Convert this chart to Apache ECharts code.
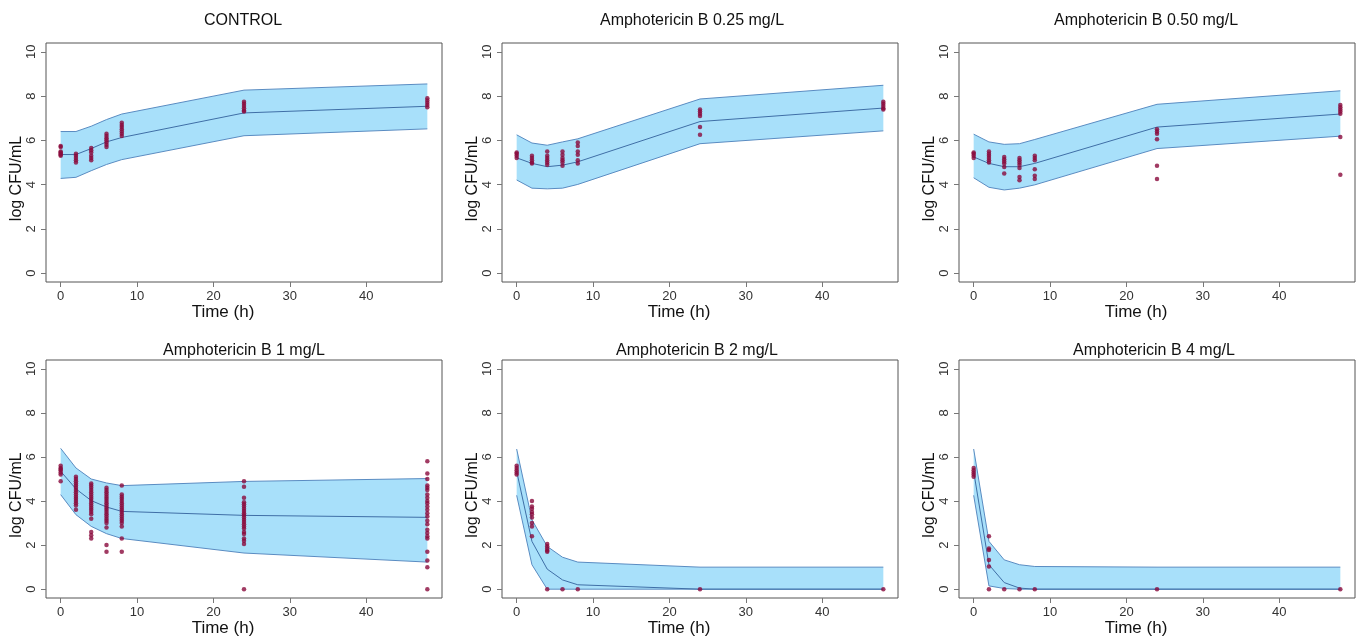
<!DOCTYPE html>
<html>
<head>
<meta charset="utf-8">
<script src="https://cdn.jsdelivr.net/npm/echarts@6/dist/echarts.min.js"></script>
<style>html,body{margin:0;padding:0;background:#fff;}#c{width:1357px;height:639px;}</style>
</head>
<body>
<div id="c"></div>
<script>
// ---------- DATA ----------
const panelTitles = ["CONTROL", "Amphotericin B 0.25 mg/L", "Amphotericin B 0.50 mg/L",
                     "Amphotericin B 1 mg/L", "Amphotericin B 2 mg/L", "Amphotericin B 4 mg/L"];
const bandTimes = [0, 2, 4, 6, 8, 24, 48];
const xTicks = [0, 10, 20, 30, 40];
const yTicks = [0, 2, 4, 6, 8, 10];

// prediction-interval upper / median / lower per panel (at bandTimes)
const upperCtrl = [6.40, 6.40, 6.64, 6.94, 7.19, 8.27, 8.55];
const medCtrl   = [5.36, 5.36, 5.63, 5.93, 6.13, 7.24, 7.54];
const lowerCtrl = [4.28, 4.33, 4.63, 4.91, 5.13, 6.21, 6.52];

const upper025 = [6.25, 5.88, 5.78, 5.93, 6.07, 7.87, 8.49];
const med025   = [5.21, 4.96, 4.81, 4.88, 5.03, 6.85, 7.46];
const lower025 = [4.21, 3.84, 3.81, 3.84, 4.01, 5.85, 6.43];

const upper050 = [6.28, 5.93, 5.82, 5.85, 6.04, 7.63, 8.24];
const med050   = [5.25, 4.96, 4.81, 4.81, 4.96, 6.60, 7.19];
const lower050 = [4.31, 3.88, 3.76, 3.84, 3.99, 5.63, 6.19];

const upper1 = [6.39, 5.50, 5.00, 4.82, 4.70, 4.89, 5.02];
const med1   = [5.35, 4.55, 4.02, 3.73, 3.53, 3.35, 3.26];
const lower1 = [4.29, 3.38, 2.85, 2.52, 2.30, 1.64, 1.23];

const upper2 = [6.36, 3.15, 1.94, 1.45, 1.23, 1.00, 1.00];
const med2   = [5.35, 2.17, 0.91, 0.42, 0.20, 0.00, 0.00];
const lower2 = [4.26, 1.11, 0.00, 0.00, 0.00, 0.00, 0.00];

const upper4 = [6.36, 2.17, 1.33, 1.11, 1.03, 1.00, 1.00];
const med4   = [5.35, 1.11, 0.30, 0.05, 0.00, 0.00, 0.00];
const lower4 = [4.26, 0.15, 0.03, 0.00, 0.00, 0.00, 0.00];

// observed log CFU/mL per sampling time
const obsCtrl = {
  0: [5.75, 5.7, 5.5, 5.45, 5.4, 5.35, 5.3],
  2: [5.4, 5.3, 5.2, 5.1, 5.0],
  4: [5.65, 5.55, 5.45, 5.3, 5.2, 5.1],
  6: [6.3, 6.2, 6.1, 6.0, 5.9, 5.8, 5.7],
  8: [6.8, 6.7, 6.6, 6.5, 6.4, 6.3, 6.2],
  24: [7.75, 7.65, 7.55, 7.45, 7.35, 7.3],
  48: [7.9, 7.8, 7.7, 7.6, 7.5]
};
const obs025 = {
  0: [5.45, 5.4, 5.3, 5.2],
  2: [5.3, 5.2, 5.1, 5.0, 4.95],
  4: [5.5, 5.3, 5.2, 5.1, 5.0, 4.9],
  6: [5.5, 5.35, 5.2, 5.1, 5.0, 4.85],
  8: [5.9, 5.75, 5.5, 5.35, 5.1, 4.95],
  24: [7.4, 7.3, 7.2, 7.1, 6.6, 6.25],
  48: [7.75, 7.65, 7.55, 7.45, 7.4]
};
const obs050 = {
  0: [5.45, 5.4, 5.3, 5.2],
  2: [5.5, 5.4, 5.3, 5.2, 5.1, 5.0],
  4: [5.25, 5.15, 5.05, 4.95, 4.8, 4.5],
  6: [5.2, 5.1, 5.0, 4.9, 4.75, 4.35, 4.2],
  8: [5.3, 5.2, 5.1, 4.7, 4.4, 4.25],
  24: [6.5, 6.4, 6.3, 6.05, 4.85, 4.25],
  48: [7.6, 7.5, 7.4, 7.3, 7.2, 6.15, 4.45]
};
const obs1 = {
  0: [5.6, 5.5, 5.45, 5.4, 5.3, 5.2, 4.9],
  2: [5.1, 5.0, 4.9, 4.8, 4.7, 4.6, 4.5, 4.4, 4.3, 4.2, 4.1, 4.0, 3.9, 3.8, 3.6],
  4: [4.8, 4.7, 4.6, 4.5, 4.4, 4.3, 4.2, 4.1, 4.0, 3.9, 3.8, 3.7, 3.6, 3.5, 3.4, 3.2, 2.6, 2.45, 2.3],
  6: [4.6, 4.5, 4.4, 4.3, 4.2, 4.1, 4.0, 3.9, 3.8, 3.7, 3.6, 3.5, 3.4, 3.3, 3.2, 3.1, 3.0, 2.8, 2.0, 1.7],
  8: [4.7, 4.3, 4.2, 4.1, 4.0, 3.9, 3.8, 3.7, 3.6, 3.5, 3.4, 3.3, 3.2, 3.1, 3.0, 2.85, 2.3, 1.7],
  24: [4.9, 4.65, 4.15, 3.95, 3.85, 3.75, 3.65, 3.55, 3.45, 3.35, 3.25, 3.15, 3.05, 2.95, 2.85, 2.75, 2.6, 2.5, 2.3, 2.2, 2.05, 0],
  48: [5.8, 5.25, 5.0, 4.7, 4.6, 4.5, 4.3, 4.15, 4.0, 3.9, 3.75, 3.6, 3.45, 3.3, 3.1, 2.95, 2.7, 2.55, 2.4, 2.3, 1.7, 1.3, 1.0, 0]
};
const obs2 = {
  0: [5.6, 5.5, 5.4, 5.3, 5.2],
  2: [4.0, 3.75, 3.65, 3.5, 3.4, 3.25, 3.0, 2.85, 2.4],
  4: [2.05, 1.95, 1.85, 1.75, 1.7, 0],
  6: [0], 8: [0], 24: [0], 48: [0]
};
const obs4 = {
  0: [5.5, 5.4, 5.3, 5.2, 5.1],
  2: [2.4, 1.85, 1.78, 1.33, 1.03, 0],
  4: [0], 6: [0], 8: [0], 24: [0], 48: [0]
};

const uppers = [upperCtrl, upper025, upper050, upper1, upper2, upper4];
const medians = [medCtrl, med025, med050, med1, med2, med4];
const lowers = [lowerCtrl, lower025, lower050, lower1, lower2, lower4];
const observed = [obsCtrl, obs025, obs050, obs1, obs2, obs4];

// ---------- LAYOUT / STYLE ----------
const FONT = "'Liberation Sans', Arial, sans-serif";
const lefts = [46, 502, 959];
const tops = [43, 360];
const W = 396;
const titleShift = [-6, -13, -16, -5, -8, -8];
const fillColor = '#a8e0fa';
const edgeColor = '#5a8cc2';
const medColor = '#3f6fa6';
const ptColor = '#8a0a3c';

const grids = [], xAxes = [], yAxes = [], series = [], titles = [];
for (let i = 0; i < 6; i++) {
  const col = i % 3, row = Math.floor(i / 3);
  grids.push({left: lefts[col], top: tops[row], width: W, height: row === 0 ? 239 : 238,
    show: true, borderColor: '#555', borderWidth: 1, backgroundColor: 'transparent'});
  titles.push({text: panelTitles[i], left: lefts[col] + W / 2 + titleShift[i], top: row === 0 ? 8 : 338,
    textAlign: 'center',
    textStyle: {fontFamily: FONT, fontSize: 16, fontWeight: 'normal', color: '#111'}});
  xAxes.push({type: 'value', gridIndex: i, min: -1.92, max: 49.92,
    name: 'Time (h)', nameLocation: 'middle', nameGap: 21,
    nameTextStyle: {fontFamily: FONT, fontSize: 17, color: '#111', padding: [0, 42, 0, 0]},
    axisLine: {show: false, onZero: false}, splitLine: {show: false},
    axisTick: {show: true, length: 5, lineStyle: {color: '#777'}, customValues: xTicks},
    axisLabel: {fontFamily: FONT, fontSize: 13, color: '#333', margin: 8, customValues: xTicks}});
  yAxes.push({type: 'value', gridIndex: i, min: -0.4, max: 10.4,
    name: 'log CFU/mL', nameLocation: 'middle', nameGap: 21,
    nameTextStyle: {fontFamily: FONT, fontSize: 16, color: '#111', padding: [0, 32, 0, 0]},
    axisLine: {show: false, onZero: false}, splitLine: {show: false},
    axisTick: {show: true, length: 5, lineStyle: {color: '#777'}, customValues: yTicks},
    axisLabel: {fontFamily: FONT, fontSize: 13, color: '#333', margin: 8, rotate: 90, customValues: yTicks}});

  const up = uppers[i], md = medians[i], lo = lowers[i];
  // filled band polygon through the axis scales
  series.push({type: 'custom', xAxisIndex: i, yAxisIndex: i, silent: true, z: 1,
    data: [0],
    renderItem: (params, api) => {
      const pts = [];
      bandTimes.forEach((t, k) => pts.push(api.coord([t, up[k]])));
      for (let k = bandTimes.length - 1; k >= 0; k--) pts.push(api.coord([bandTimes[k], lo[k]]));
      return {type: 'polygon', shape: {points: pts}, style: {fill: fillColor, stroke: null}};
    }});
  series.push({type: 'line', xAxisIndex: i, yAxisIndex: i, symbol: 'none',
    data: bandTimes.map((t, k) => [t, up[k]]),
    lineStyle: {color: edgeColor, width: 1}, silent: true, z: 2});
  series.push({type: 'line', xAxisIndex: i, yAxisIndex: i, symbol: 'none',
    data: bandTimes.map((t, k) => [t, lo[k]]),
    lineStyle: {color: edgeColor, width: 1}, silent: true, z: 2});
  series.push({type: 'line', xAxisIndex: i, yAxisIndex: i, symbol: 'none',
    data: bandTimes.map((t, k) => [t, md[k]]),
    lineStyle: {color: medColor, width: 1}, silent: true, z: 3});
  const pts = [];
  const ob = observed[i];
  Object.keys(ob).forEach(t => ob[t].forEach(v => pts.push([Number(t), v])));
  series.push({type: 'scatter', xAxisIndex: i, yAxisIndex: i, data: pts,
    symbol: 'circle', symbolSize: 4.5, itemStyle: {color: ptColor}, z: 4});
}

const chart = echarts.init(document.getElementById('c'), null, {renderer: 'canvas'});
chart.setOption({
  animation: false,
  backgroundColor: '#fff',
  title: titles, grid: grids, xAxis: xAxes, yAxis: yAxes, series: series
});
</script>
</body>
</html>
